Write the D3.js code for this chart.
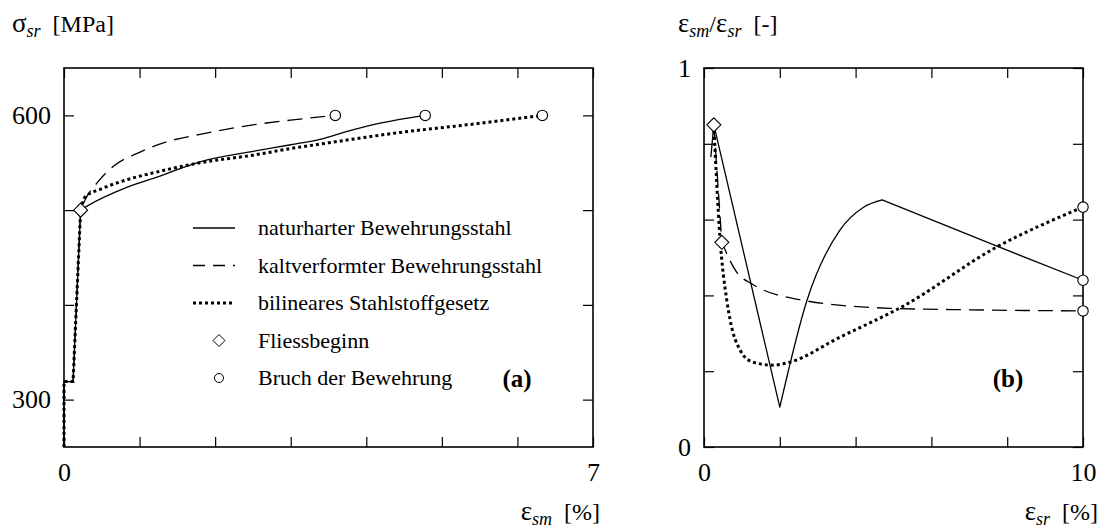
<!DOCTYPE html>
<html>
<head>
<meta charset="utf-8">
<script src="https://cdn.jsdelivr.net/npm/d3@7"></script>
<style>
  html, body { margin: 0; padding: 0; background: #fff; }
  svg { display: block; }
  text { font-family: "Liberation Serif", "Times New Roman", serif; fill: #000; }
</style>
</head>
<body>
<svg id="chart" width="1101" height="528"></svg>
<script>
// ---------------- DATA ----------------
// Chart (a): sigma_sr [MPa] vs eps_sm [%]
const aXTicks = [0, 1, 2, 3, 4, 5, 6, 7];
const aXLabels = [0, 7];
const aYTicks = [300, 400, 500, 600];
const aYLabels = [300, 600];
const aNaturhart = [[0, 250], [0, 319], [0.12, 319], [0.22, 500], [0.3, 504], [0.83, 524], [1.27, 536], [1.8, 551], [2.5, 562], [3.0, 569], [3.4, 575], [3.7, 582], [4.2, 592], [4.78, 600]];
const aKaltverformt = [[0, 250], [0, 319], [0.12, 319], [0.22, 500], [0.28, 511], [0.44, 529], [0.65, 546], [1.0, 561], [1.4, 573], [1.8, 580], [2.5, 590], [3.0, 595], [3.59, 600]];
const aBilinear = [[0, 250], [0, 319], [0.12, 319], [0.22, 500], [0.28, 514], [0.48, 522], [0.83, 532], [1.27, 541], [1.8, 550], [2.5, 558], [3.0, 565], [3.5, 571], [4.0, 577], [4.45, 582], [5.33, 590], [6.33, 600]];
const aFliess = [[0.22, 500]];
const aBruch = [[3.59, 600], [4.78, 600], [6.33, 600]];

// Chart (b): eps_sm/eps_sr [-] vs eps_sr [%]
const bXTicks = [0, 2, 4, 6, 8, 10];
const bXLabels = [0, 10];
const bYTicks = [0, 0.2, 0.4, 0.6, 0.8, 1];
const bYLabels = [0, 1];
const bNaturhart = [[0.18, 0.765], [0.26, 0.85], [2.0, 0.105], [2.72, 0.388], [3.59, 0.573], [4.2, 0.632], [4.7, 0.652], [7.73, 0.53], [10, 0.44]];
const bKaltverformt = [[0.26, 0.85], [0.47, 0.54], [0.87, 0.46], [1.27, 0.43], [2.45, 0.39], [4.9, 0.366], [7.0, 0.362], [10, 0.359]];
const bBilinear = [[0.26, 0.85], [0.42, 0.554], [0.6, 0.388], [0.69, 0.335], [0.95, 0.256], [1.29, 0.224], [1.82, 0.216], [2.27, 0.224], [3.59, 0.29], [4.9, 0.353], [5.17, 0.367], [7.73, 0.528], [10, 0.633]];
const bFliess = [[0.26, 0.85], [0.47, 0.54]];
const bBruch = [[10, 0.44], [10, 0.359], [10, 0.633]];

const legendLabels = ["naturharter Bewehrungsstahl", "kaltverformter Bewehrungsstahl", "bilineares Stahlstoffgesetz", "Fliessbeginn", "Bruch der Bewehrung"];

// ---------------- DRAW ----------------
const svg = d3.select("#chart");
const FONT = '"Liberation Serif", "Times New Roman", serif';

const xa = d3.scaleLinear().domain([0, 7]).range([64, 593]);
const ya = d3.scaleLinear().domain([250, 650]).range([447, 68]);
const xb = d3.scaleLinear().domain([0, 10]).range([704, 1083]);
const yb = d3.scaleLinear().domain([0, 1]).range([447, 68]);

const styles = {
  solid: { w: 1.3, dash: null, leg: null },
  dashed: { w: 1.3, dash: "15,8", leg: "12,8" },
  dotted: { w: 3, dash: "3,3", leg: "3,3" }
};

function drawAxes(x, y, xt, xl, yt, yl) {
  const [x0, x1] = x.range();
  const [y0, y1] = y.range();
  const fmt = labs => d => labs.includes(d) ? String(d) : "";
  const style = g => {
    g.select(".domain").remove();
    g.selectAll("line").attr("stroke", "#000").attr("stroke-width", 1.2);
    g.attr("font-family", FONT).attr("font-size", 26);
  };
  svg.append("g").attr("transform", `translate(0,${y0})`)
    .call(d3.axisBottom(x).tickValues(xt).tickSize(-10).tickSizeOuter(0).tickPadding(16).tickFormat(fmt(xl))).call(style);
  svg.append("g").attr("transform", `translate(0,${y1})`)
    .call(d3.axisTop(x).tickValues(xt).tickSize(-10).tickSizeOuter(0).tickFormat(() => "")).call(style);
  svg.append("g").attr("transform", `translate(${x0},0)`)
    .call(d3.axisLeft(y).tickValues(yt).tickSize(-10).tickSizeOuter(0).tickPadding(13).tickFormat(fmt(yl))).call(style);
  svg.append("g").attr("transform", `translate(${x1},0)`)
    .call(d3.axisRight(y).tickValues(yt).tickSize(-10).tickSizeOuter(0).tickFormat(() => "")).call(style);
  svg.append("rect").attr("x", x0).attr("y", y1).attr("width", x1 - x0).attr("height", y0 - y1)
    .attr("fill", "none").attr("stroke", "#000").attr("stroke-width", 1.6);
}

// path built of segments: linear for kinked parts, monotone for smooth parts
function segPath(x, y, data, segs) {
  let d = "";
  segs.forEach(([i0, i1, smooth]) => {
    const gen = d3.line().x(p => x(p[0])).y(p => y(p[1])).curve(smooth ? d3.curveMonotoneX : d3.curveLinear);
    let s = gen(data.slice(i0, i1 + 1));
    if (d) s = "L" + s.slice(1);
    d += s;
  });
  return d;
}

function drawCurve(x, y, data, segs, st) {
  const s = styles[st];
  svg.append("path").attr("d", segPath(x, y, data, segs))
    .attr("fill", "none").attr("stroke", "#000").attr("stroke-width", s.w)
    .attr("stroke-dasharray", s.dash).attr("stroke-linejoin", "round");
}

const diamond = (cx, cy, r) => `M${cx},${cy - r}L${cx + r},${cy}L${cx},${cy + r}L${cx - r},${cy}Z`;
function drawDiamonds(x, y, pts) {
  svg.append("g").selectAll("path").data(pts).join("path")
    .attr("d", p => diamond(x(p[0]), y(p[1]), 7))
    .attr("fill", "#fff").attr("stroke", "#000").attr("stroke-width", 1.1);
}
function drawCircles(x, y, pts) {
  svg.append("g").selectAll("circle").data(pts).join("circle")
    .attr("cx", p => x(p[0])).attr("cy", p => y(p[1])).attr("r", 5.2)
    .attr("fill", "#fff").attr("stroke", "#000").attr("stroke-width", 1.1);
}

// ---- chart (a)
drawAxes(xa, ya, aXTicks, aXLabels, aYTicks, aYLabels);
drawCurve(xa, ya, aBilinear, [[0, 3, false], [3, aBilinear.length - 1, true]], "dotted");
drawCurve(xa, ya, aKaltverformt, [[0, 3, false], [3, aKaltverformt.length - 1, true]], "dashed");
drawCurve(xa, ya, aNaturhart, [[0, 3, false], [3, aNaturhart.length - 1, true]], "solid");
drawDiamonds(xa, ya, aFliess);
drawCircles(xa, ya, aBruch);

// ---- chart (b)
drawAxes(xb, yb, bXTicks, bXLabels, bYTicks, bYLabels);
drawCurve(xb, yb, bBilinear, [[0, bBilinear.length - 1, true]], "dotted");
drawCurve(xb, yb, bKaltverformt, [[0, 1, false], [1, bKaltverformt.length - 1, true]], "dashed");
drawCurve(xb, yb, bNaturhart, [[0, 2, false], [2, 6, true], [6, 8, false]], "solid");
drawDiamonds(xb, yb, bFliess);
drawCircles(xb, yb, bBruch);

// ---- legend (inside chart a)
const legX0 = 193, legX1 = 235, legTX = 258, legY0 = 228, legDY = 37.5;
const legKinds = ["solid", "dashed", "dotted", "diamond", "circle"];
legendLabels.forEach((lab, i) => {
  const cy = legY0 + i * legDY;
  const k = legKinds[i];
  if (styles[k]) {
    svg.append("line").attr("x1", legX0).attr("x2", legX1).attr("y1", cy).attr("y2", cy)
      .attr("stroke", "#000").attr("stroke-width", styles[k].w).attr("stroke-dasharray", styles[k].leg);
  } else if (k === "diamond") {
    svg.append("path").attr("d", diamond(219, cy, 6)).attr("fill", "#fff").attr("stroke", "#000").attr("stroke-width", 1);
  } else {
    svg.append("circle").attr("cx", 219).attr("cy", cy).attr("r", 4.5).attr("fill", "#fff").attr("stroke", "#000").attr("stroke-width", 1);
  }
  svg.append("text").attr("x", legTX).attr("y", cy + 7).attr("font-size", 22).text(lab);
});

// panel tags
svg.append("text").attr("x", 517).attr("y", 387).attr("text-anchor", "middle").attr("font-size", 25).attr("font-weight", "bold").text("(a)");
svg.append("text").attr("x", 1008).attr("y", 387).attr("text-anchor", "middle").attr("font-size", 25).attr("font-weight", "bold").text("(b)");

// axis titles (symbol + italic subscript + unit)
function title(x, y, anchor, parts) {
  const t = svg.append("text").attr("x", x).attr("y", y).attr("text-anchor", anchor).attr("font-size", 24);
  let down = false;
  parts.forEach(([txt, sub]) => {
    const s = t.append("tspan").text(txt);
    if (sub && !down) { s.attr("font-style", "italic").attr("font-size", 18).attr("dy", 5); down = true; }
    else if (sub) { s.attr("font-style", "italic").attr("font-size", 18); }
    else if (down) { s.attr("dy", -5); down = false; }
    if (!sub && /^[σε]/.test(txt)) s.attr("font-size", 27);
  });
}
title(12, 32, "start", [["σ", false], ["sr", true], ["\u00a0\u00a0[MPa]", false]]);
title(678, 32, "start", [["ε", false], ["sm", true], ["/", false], ["ε", false], ["sr", true], ["\u00a0\u00a0[-]", false]]);
title(600, 520, "end", [["ε", false], ["sm", true], ["\u00a0\u00a0[%]", false]]);
title(1098, 520, "end", [["ε", false], ["sr", true], ["\u00a0\u00a0[%]", false]]);
</script>
</body>
</html>
